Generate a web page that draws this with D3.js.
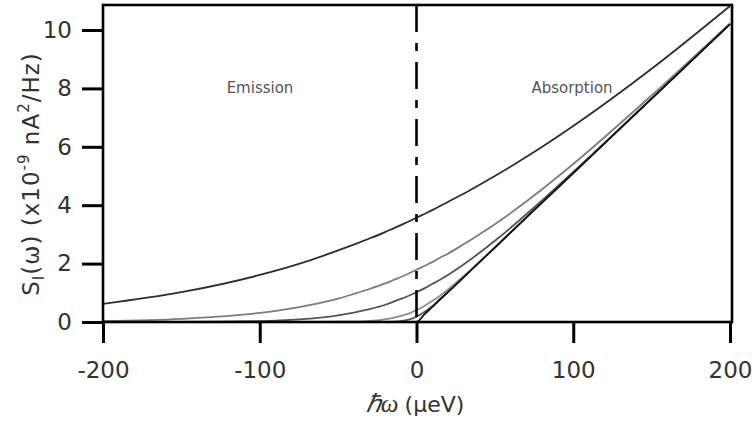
<!DOCTYPE html>
<html>
<head>
<meta charset="utf-8">
<script src="https://cdn.jsdelivr.net/npm/d3@7"></script>
<style>
  body { margin: 0; background: #fff; }
  svg { display: block; }
  .tick text { font-family: "DejaVu Sans", sans-serif; font-size: 23px; fill: #333; }
</style>
</head>
<body>
<svg></svg>
<script>
const size = { w: 752, h: 422 };
const svg = d3.select("svg").attr("width", size.w).attr("height", size.h);

// energy grid (μeV), shared by all curves
const energy = [-200, -150, -100, -75, -50, -40, -30, -20, -15, -10, -5, 0,
  5, 10, 15, 20, 30, 40, 50, 75, 100, 150, 200];

// noise spectra (x10^-9 nA^2/Hz), hottest first
const curveA = [0.62, 1.02, 1.61, 1.99, 2.45, 2.65, 2.86, 3.08, 3.20, 3.32, 3.44, 3.57,
  3.70, 3.83, 3.97, 4.11, 4.39, 4.69, 5.00, 5.82, 6.71, 8.67, 10.82];
const curveB = [0.03, 0.11, 0.31, 0.51, 0.80, 0.96, 1.13, 1.32, 1.43, 1.54, 1.66, 1.79,
  1.92, 2.05, 2.20, 2.34, 2.66, 3.00, 3.35, 4.33, 5.41, 7.76, 10.23];
const curveC = [0.0, 0.0, 0.03, 0.09, 0.23, 0.32, 0.44, 0.59, 0.69, 0.79, 0.90, 1.02,
  1.15, 1.30, 1.45, 1.61, 1.97, 2.36, 2.78, 3.92, 5.14, 7.65, 10.2];
const curveD = [0.0, 0.0, 0.0, 0.0, 0.01, 0.01, 0.04, 0.09, 0.14, 0.21, 0.29, 0.41,
  0.55, 0.72, 0.90, 1.11, 1.57, 2.05, 2.56, 3.83, 5.1, 7.65, 10.2];
const curveE = [0.0, 0.0, 0.0, 0.0, 0.0, 0.0, 0.0, 0.0, 0.01, 0.03, 0.08, 0.18,
  0.34, 0.54, 0.78, 1.02, 1.53, 2.04, 2.55, 3.83, 5.1, 7.65, 10.2];
const curveT0 = [0, 0, 0, 0, 0, 0, 0, 0, 0, 0, 0, 0,
  0.26, 0.51, 0.77, 1.02, 1.53, 2.04, 2.55, 3.83, 5.1, 7.65, 10.2];

const series = [
  { values: curveE, color: "#5a5a5a" },
  { values: curveD, color: "#8e8e8e" },
  { values: curveC, color: "#555555" },
  { values: curveB, color: "#7d7d7d" },
  { values: curveA, color: "#2e2e2e" },
  { values: curveT0, color: "#111111" },
];

const xTicks = [-200, -100, 0, 100, 200];
const yTicks = [0, 2, 4, 6, 8, 10];

let x = d3.scaleLinear().domain([-200, 200]).range([103, 730]);
let y = d3.scaleLinear().domain([0, 10]).range([322, 30]);

const frame = { l: 103, r: 732, t: 5, b: 322 };

svg.append("clipPath").attr("id", "plot")
  .append("rect")
  .attr("x", frame.l).attr("y", frame.t)
  .attr("width", frame.r - frame.l).attr("height", frame.b - frame.t);

// curves
let line = d3.line()
  .x((d, i) => x(energy[i]))
  .y(d => y(d))
  .curve(d3.curveMonotoneX);

svg.append("g").attr("clip-path", "url(#plot)")
  .selectAll("path")
  .data(series)
  .enter()
  .append("path")
  .attr("d", d => line(d.values))
  .attr("fill", "none")
  .attr("stroke", d => d.color)
  .attr("stroke-width", 1.8);

// dash-dot line at zero energy
svg.append("line")
  .attr("x1", x(0)).attr("x2", x(0))
  .attr("y1", frame.t).attr("y2", frame.b)
  .attr("stroke", "#000")
  .attr("stroke-width", 2.6)
  .attr("stroke-dasharray", "27,11,8,11");

// frame
svg.append("rect")
  .attr("x", frame.l).attr("y", frame.t)
  .attr("width", frame.r - frame.l).attr("height", frame.b - frame.t)
  .attr("fill", "none")
  .attr("stroke", "#000")
  .attr("stroke-width", 2.6);

// axes
let xAxis = svg.append("g")
  .attr("transform", `translate(0,${frame.b})`)
  .call(d3.axisBottom(x).tickValues(xTicks).tickSize(21).tickSizeOuter(0).tickPadding(19).tickFormat(d3.format("d")));
let yAxis = svg.append("g")
  .attr("transform", `translate(${frame.l},0)`)
  .call(d3.axisLeft(y).tickValues(yTicks).tickSize(21).tickSizeOuter(0).tickPadding(10).tickFormat(d3.format("d")));

[xAxis, yAxis].forEach(a => {
  a.select(".domain").remove();
  a.selectAll(".tick line").attr("stroke", "#000").attr("stroke-width", 3);
});
xAxis.selectAll(".tick text").text(d => d < 0 ? "-" + Math.abs(d) : d);

// region labels
svg.append("text")
  .attr("x", 260).attr("y", 93)
  .attr("text-anchor", "middle")
  .style("font-family", "DejaVu Sans, sans-serif")
  .style("font-size", "15px")
  .attr("fill", "#555")
  .text("Emission");
svg.append("text")
  .attr("x", 572).attr("y", 93)
  .attr("text-anchor", "middle")
  .style("font-family", "DejaVu Sans, sans-serif")
  .style("font-size", "15px")
  .attr("fill", "#555")
  .text("Absorption");

// x axis title
let xt = svg.append("text")
  .attr("x", 415).attr("y", 412)
  .attr("text-anchor", "middle")
  .style("font-family", "DejaVu Sans, sans-serif")
  .style("font-size", "22px")
  .attr("fill", "#333");
xt.append("tspan")
  .style("font-family", "Liberation Serif, serif")
  .style("font-style", "italic")
  .style("font-size", "25px")
  .text("ℏω ");
xt.append("tspan").text("(μeV)");

// y axis title
let yt = svg.append("text")
  .attr("transform", "translate(39,174) rotate(-90)")
  .attr("text-anchor", "middle")
  .style("font-family", "DejaVu Sans, sans-serif")
  .style("font-size", "23px")
  .style("letter-spacing", "1px")
  .attr("fill", "#333");
yt.append("tspan").text("S");
yt.append("tspan").attr("dy", 5).style("font-size", "15px").text("I");
yt.append("tspan").attr("dy", -5).text("(ω) (x10");
yt.append("tspan").attr("dy", -10).style("font-size", "15px").text("-9");
yt.append("tspan").attr("dy", 10).text(" nA");
yt.append("tspan").attr("dy", -10).style("font-size", "15px").text("2");
yt.append("tspan").attr("dy", 10).text("/Hz)");
</script>
</body>
</html>
